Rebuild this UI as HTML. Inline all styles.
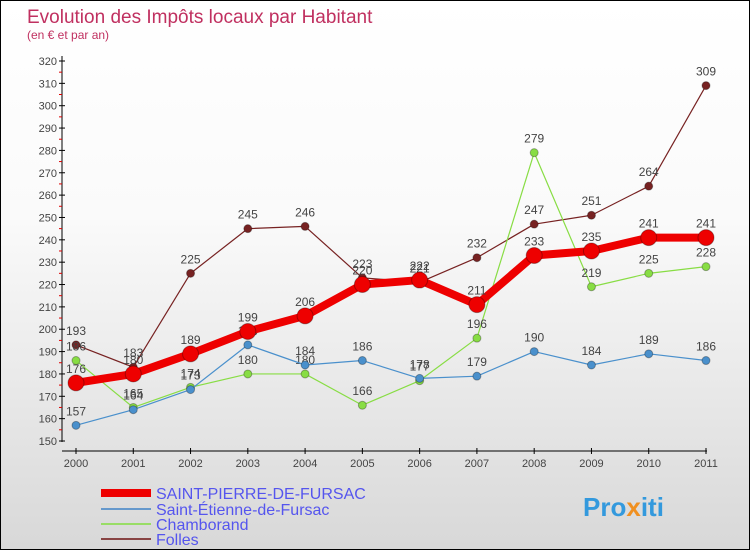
<!DOCTYPE html>
<html><head><meta charset="utf-8"><style>
body{margin:0}
#c{width:748px;height:548px;border:1px solid #000;background:linear-gradient(#fff,#fafafa 40%,#d8d8d8);position:relative;font-family:"Liberation Sans",sans-serif;overflow:hidden}
</style></head><body>
<div id="c">
<svg id="s" width="748" height="548" xmlns="http://www.w3.org/2000/svg">
<text x="26" y="22" font-size="19" fill="#c03060">Evolution des Impôts locaux par Habitant</text>
<text x="26" y="38" font-size="12" fill="#c03060">(en € et par an)</text>
<g id="axes"></g><g id="series"></g>
<g>
<line x1="100" y1="492" x2="150" y2="492" stroke="#e00" stroke-width="8"/>
<text x="155" y="498" font-size="16" fill="#55e">SAINT-PIERRE-DE-FURSAC</text>
<line x1="100" y1="508" x2="150" y2="508" stroke="#6699cc" stroke-width="2"/>
<text x="155" y="514" font-size="16" fill="#55e">Saint-Étienne-de-Fursac</text>
<line x1="100" y1="523" x2="150" y2="523" stroke="#99dd66" stroke-width="2"/>
<text x="155" y="529" font-size="16" fill="#55e">Chamborand</text>
<line x1="100" y1="538" x2="150" y2="538" stroke="#884444" stroke-width="2"/>
<text x="155" y="544" font-size="16" fill="#55e">Folles</text>
</g>
<text x="582" y="515" font-size="26" font-weight="bold" fill="#3399dd">Pro<tspan fill="#f09020">x</tspan>iti</text>
</svg></div>
<script>
const years=[2000,2001,2002,2003,2004,2005,2006,2007,2008,2009,2010,2011];
const yTicks=[150,160,170,180,190,200,210,220,230,240,250,260,270,280,290,300,310,320];
const spf=[176,180,189,199,206,220,222,211,233,235,241,241];
const sef=[157,164,173,193,184,186,178,179,190,184,189,186];
const cha=[186,165,174,180,180,166,177,196,279,219,225,228];
const fol=[193,183,225,245,246,223,221,232,247,251,264,309];
const NS="http://www.w3.org/2000/svg";
const X=i=>75+i*(630/11), Y=v=>440-(v-150)*(380/170);
function mk(t,a,p){const e=document.createElementNS(NS,t);for(const k in a)e.setAttribute(k,a[k]);p.appendChild(e);return e;}
const ax=document.getElementById('axes'),sg=document.getElementById('series');
mk('line',{x1:61,y1:55,x2:61,y2:441,stroke:'#000'},ax);
mk('line',{x1:61,y1:450,x2:706,y2:450,stroke:'#000'},ax);
yTicks.forEach(v=>{const y=Y(v);
mk('line',{x1:58,y1:y,x2:64,y2:y,stroke:'#000'},ax);
if(v<320)mk('line',{x1:58,y1:y-11.2,x2:61,y2:y-11.2,stroke:'#d00'},ax);
const t=mk('text',{x:56,y:y+4,'font-size':11,fill:'#444','text-anchor':'end'},ax);t.textContent=v;

});
years.forEach((yr,i)=>{const x=X(i);mk('line',{x1:x,y1:447,x2:x,y2:453,stroke:'#000'},ax);
const t=mk('text',{x:x,y:466,'font-size':11,fill:'#444','text-anchor':'middle'},ax);t.textContent=yr;

});
function series(d,col,w,r,name,lab){const g=mk('g',{},sg);


mk('polyline',{points:d.map((v,i)=>X(i)+','+Y(v)).join(' '),fill:'none',stroke:col,'stroke-width':w,'stroke-linejoin':'round'},g);
d.forEach((v,i)=>{const c=mk('circle',{cx:X(i),cy:Y(v),r:r,fill:col,stroke:'rgba(0,0,0,0.3)'},g);


const t=mk('text',{x:X(i),y:Y(v)-10,'font-size':12,fill:'#444','text-anchor':'middle'},g);t.textContent=v;});}
series(fol,'#772222',1.2,4,'series-folles');
series(cha,'#88dd44',1.2,4,'series-chamborand');
series(sef,'#4a90cc',1.2,4,'series-saint-etienne');
series(spf,'#ee0000',8,8,'series-saint-pierre');
</script></body></html>
